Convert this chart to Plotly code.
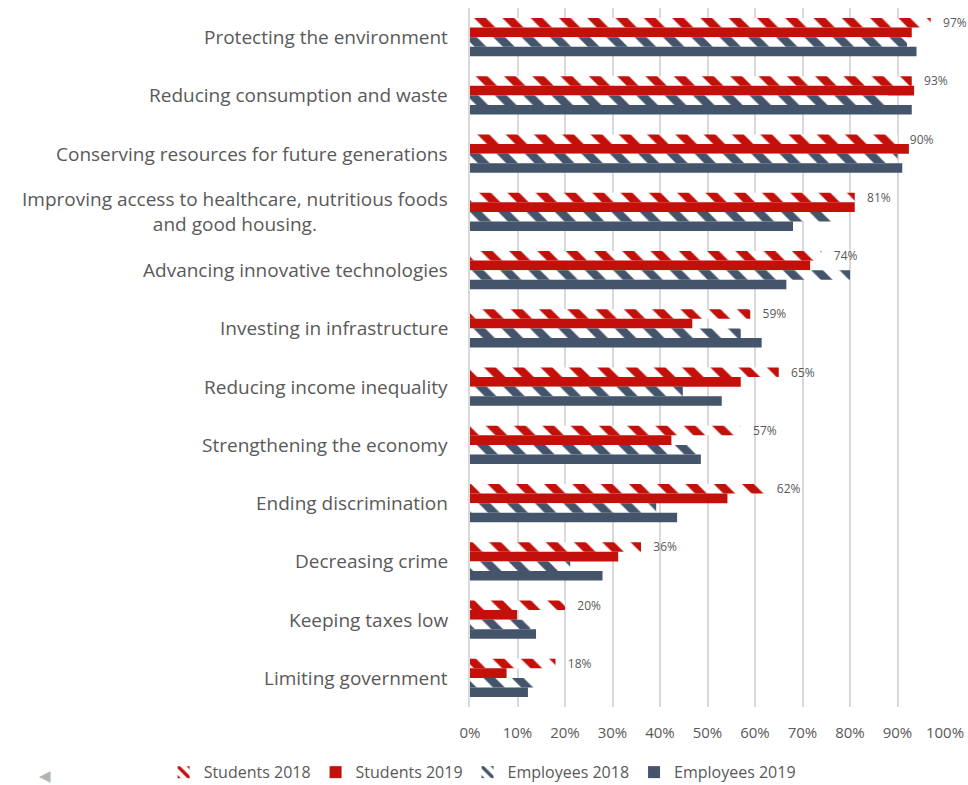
import plotly.graph_objects as go

# Survey items, listed top to bottom
categories = [
    "Protecting the environment",
    "Reducing consumption and waste",
    "Conserving resources for future generations",
    "Improving access to healthcare, nutritious foods<br>and good housing.",
    "Advancing innovative technologies",
    "Investing in infrastructure",
    "Reducing income inequality",
    "Strengthening the economy",
    "Ending discrimination",
    "Decreasing crime",
    "Keeping taxes low",
    "Limiting government",
]

# Share of respondents (fraction) per group
students_2018 = [0.97, 0.93, 0.90, 0.81, 0.74, 0.59, 0.65, 0.57, 0.62, 0.36, 0.20, 0.18]
students_2019 = [0.93, 0.935, 0.924, 0.81, 0.716, 0.468, 0.57, 0.424, 0.542, 0.312, 0.099, 0.077]
employees_2018 = [0.92, 0.88, 0.90, 0.775, 0.80, 0.57, 0.448, 0.48, 0.392, 0.211, 0.127, 0.138]
employees_2019 = [0.94, 0.93, 0.91, 0.68, 0.666, 0.614, 0.53, 0.486, 0.436, 0.279, 0.139, 0.122]

x_ticks = [0, 0.1, 0.2, 0.3, 0.4, 0.5, 0.6, 0.7, 0.8, 0.9, 1.0]

RED = "#C4100A"
SLATE = "#44546A"
TEXT = "#595959"
FONT = "Open Sans"
NBSP = "\u00a0"


def hatch(color):
    return dict(shape="\\", fgcolor=color, bgcolor="white", fgopacity=1,
                size=20, solidity=0.42, fillmode="replace")


fig = go.Figure()

fig.add_trace(go.Bar(
    name="Students 2018", y=categories, x=students_2018, orientation="h",
    marker=dict(color=RED, line=dict(width=0), pattern=hatch(RED)),
    text=[f"{NBSP * 3}{v:.0%}" for v in students_2018], textposition="outside",
    constraintext="none",
    textfont=dict(family=FONT, size=12, color=TEXT), cliponaxis=False,
))
fig.add_trace(go.Bar(
    name="Students 2019", y=categories, x=students_2019, orientation="h",
    marker=dict(color=RED, line=dict(width=0)),
))
fig.add_trace(go.Bar(
    name="Employees 2018", y=categories, x=employees_2018, orientation="h",
    marker=dict(color=SLATE, line=dict(width=0), pattern=hatch(SLATE)),
))
fig.add_trace(go.Bar(
    name="Employees 2019", y=categories, x=employees_2019, orientation="h",
    marker=dict(color=SLATE, line=dict(width=0)),
))

# Category labels drawn as centred multi-line text to the left of the axis
for cat in categories:
    fig.add_annotation(
        x=0, xref="paper", y=cat, yref="y", xanchor="right", yanchor="middle",
        xshift=-20, text=cat, showarrow=False, align="center",
        font=dict(family=FONT, size=19, color=TEXT),
    )

# Small grey arrow glyph in the lower-left corner
fig.add_annotation(
    x=-0.895, xref="paper", y=-0.098, yref="paper", xanchor="center",
    yanchor="middle", text="◀", showarrow=False,
    font=dict(family="DejaVu Sans", size=15, color="#B4B4B4"),
)

fig.update_layout(
    width=968, height=785,
    margin=dict(l=470, r=23, t=8, b=78, autoexpand=False),
    paper_bgcolor="white", plot_bgcolor="white",
    barmode="group", bargap=0.34, bargroupgap=0,
    font=dict(family=FONT, color=TEXT),
    showlegend=True,
    legend=dict(
        orientation="h", xref="paper", yref="paper",
        x=-0.645, xanchor="left", y=-0.069, yanchor="top",
        font=dict(family=FONT, size=16, color=TEXT),
        itemwidth=30, traceorder="normal",
    ),
    xaxis=dict(
        range=[0, 1.0], tickvals=x_ticks, tickformat=".0%",
        showgrid=True, gridcolor="#D9D9D9", gridwidth=1.5,
        zeroline=False, showline=False, ticks="",
        tickfont=dict(family=FONT, size=15, color=TEXT),
        ticklabelstandoff=15, fixedrange=True,
    ),
    yaxis=dict(
        categoryorder="array", categoryarray=categories, autorange="reversed",
        showticklabels=False, showgrid=False, zeroline=False,
        showline=True, linecolor="#D9D9D9", linewidth=1.5, ticks="",
    ),
)

fig.write_html("out.html")
